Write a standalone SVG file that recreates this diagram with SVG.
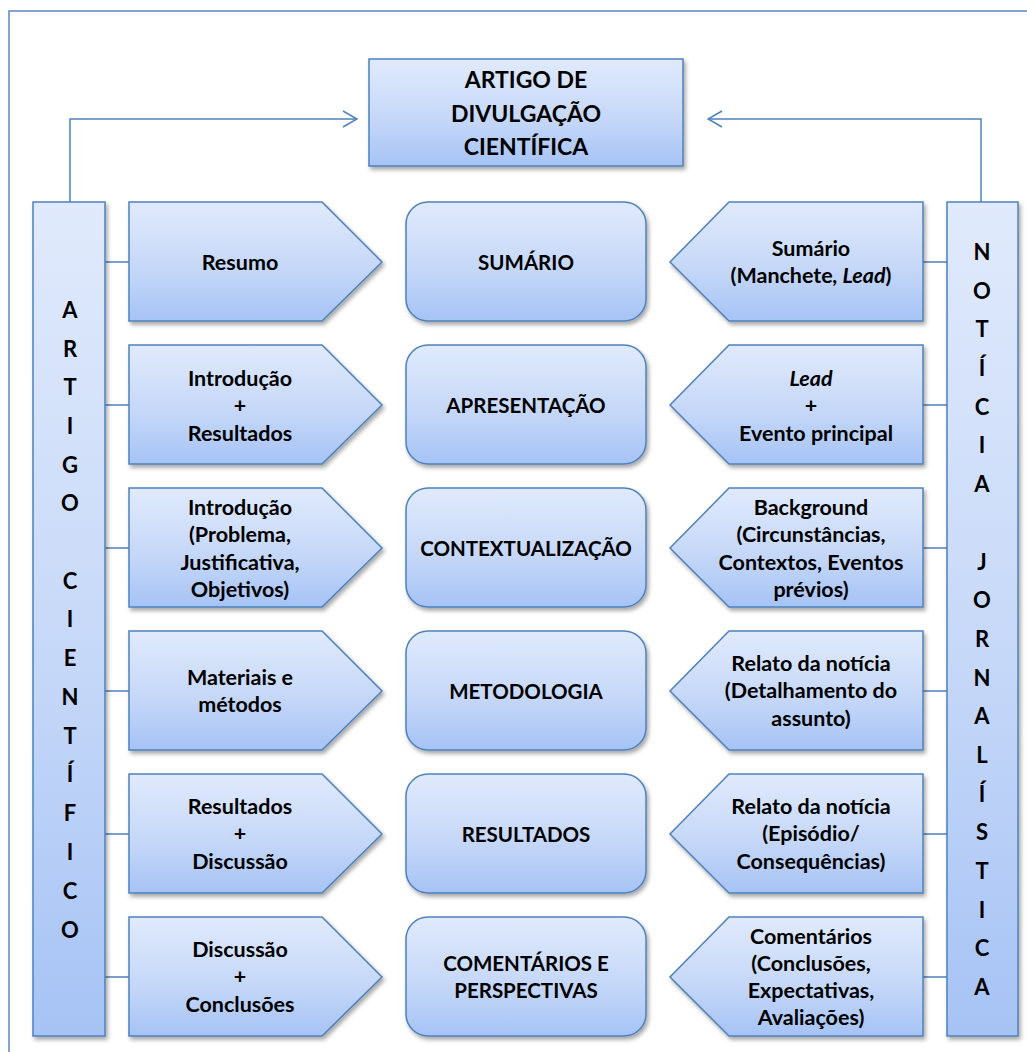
<svg xmlns="http://www.w3.org/2000/svg" width="1027" height="1052" viewBox="0 0 1027 1052">
  <defs>
    <linearGradient id="fillBlue" x1="0" y1="0" x2="0" y2="1">
      <stop offset="0" stop-color="#e0eafc"/>
      <stop offset="0.55" stop-color="#c6d8f8"/>
      <stop offset="1" stop-color="#a6c3f5"/>
    </linearGradient>
    <filter id="shadow" x="-10%" y="-10%" width="125%" height="125%">
      <feDropShadow dx="2" dy="3" stdDeviation="2" flood-color="#000" flood-opacity="0.35"/>
    </filter>
    <marker id="openArrow" markerWidth="16" markerHeight="18" refX="15" refY="9" orient="auto" markerUnits="userSpaceOnUse">
      <path d="M1,1 L15,9 L1,17" fill="none" stroke="#4f81bd" stroke-width="1.5"/>
    </marker>
  </defs>
  <style>
    .shape { fill: url(#fillBlue); stroke: #4f81bd; stroke-width: 1.5; filter: url(#shadow); }
    .link { fill: none; stroke: #4f81bd; stroke-width: 1.5; }
    .frame { fill: none; stroke: #5b87c5; stroke-width: 1.5; }
    text { font-family: Lato, Carlito, "Liberation Sans", sans-serif; font-weight: bold; fill: #000; text-anchor: middle; }
    .lbl { font-size: 21.5px; }
    .mid { font-size: 20.5px; }
    .title { font-size: 23px; }
    .letter { font-size: 22px; }
    .it { font-style: italic; }
  </style>

  <rect width="1027" height="1052" fill="#fff"/>

  <!-- outer frame -->
  <path class="frame" d="M9,1052 V11 H1027"/>

  <!-- connectors -->
  <g id="connectors">
    <path class="link" d="M70,202 V119 H357" stroke="#4a98c8" marker-end="url(#openArrow)"/>
    <path class="link" d="M981,202 V119 H708" marker-end="url(#openArrow)"/>
    <path class="link" d="M105,262 H129 M105,405 H129 M105,548 H129 M105,691 H129 M105,834 H129 M105,977 H129"/>
    <path class="link" d="M923,262 H947 M923,405 H947 M923,548 H947 M923,691 H947 M923,834 H947 M923,977 H947"/>
  </g>

  <!-- title -->
  <g id="title">
    <rect class="shape" x="369" y="59" width="314" height="107"/>
    <text class="title" x="526" y="88">ARTIGO DE</text>
    <text class="title" x="526" y="122">DIVULGAÇÃO</text>
    <text class="title" x="526" y="155">CIENTÍFICA</text>
  </g>

  <!-- left column bar -->
  <g id="artigo-cientifico">
    <rect class="shape" x="33" y="202" width="72" height="834"/>
    <text class="letter" x="70" y="318">A</text>
    <text class="letter" x="70" y="357">R</text>
    <text class="letter" x="70" y="395">T</text>
    <text class="letter" x="70" y="434">I</text>
    <text class="letter" x="70" y="473">G</text>
    <text class="letter" x="70" y="511">O</text>
    <text class="letter" x="70" y="589">C</text>
    <text class="letter" x="70" y="627">I</text>
    <text class="letter" x="70" y="666">E</text>
    <text class="letter" x="70" y="705">N</text>
    <text class="letter" x="70" y="744">T</text>
    <text class="letter" x="70" y="782">Í</text>
    <text class="letter" x="70" y="821">F</text>
    <text class="letter" x="70" y="860">I</text>
    <text class="letter" x="70" y="899">C</text>
    <text class="letter" x="70" y="938">O</text>
  </g>

  <!-- right column bar -->
  <g id="noticia-jornalistica">
    <rect class="shape" x="947" y="202" width="71" height="834"/>
    <text class="letter" x="982" y="260">N</text>
    <text class="letter" x="982" y="299">O</text>
    <text class="letter" x="982" y="337">T</text>
    <text class="letter" x="982" y="376">Í</text>
    <text class="letter" x="982" y="415">C</text>
    <text class="letter" x="982" y="453">I</text>
    <text class="letter" x="982" y="492">A</text>
    <text class="letter" x="982" y="570">J</text>
    <text class="letter" x="982" y="608">O</text>
    <text class="letter" x="982" y="647">R</text>
    <text class="letter" x="982" y="686">N</text>
    <text class="letter" x="982" y="724">A</text>
    <text class="letter" x="982" y="763">L</text>
    <text class="letter" x="982" y="802">Í</text>
    <text class="letter" x="982" y="840">S</text>
    <text class="letter" x="982" y="879">T</text>
    <text class="letter" x="982" y="918">I</text>
    <text class="letter" x="982" y="956">C</text>
    <text class="letter" x="982" y="995">A</text>
  </g>

  <!-- row 1 -->
  <g id="resumo">
    <path class="shape" d="M129,202 H322 L382,262 L322,321 H129 Z"/>
    <text class="lbl" x="240" y="270">Resumo</text>
  </g>
  <g id="sumario">
    <rect class="shape" x="406" y="202" width="240" height="119" rx="22"/>
    <text class="mid" x="526" y="270">SUMÁRIO</text>
  </g>
  <g id="sumario-noticia">
    <path class="shape" d="M923,202 H729 L670,262 L729,321 H923 Z"/>
    <text class="lbl" x="811" y="256">Sumário</text>
    <text class="lbl" x="811" y="283">(Manchete<tspan class="it">, Lead</tspan>)</text>
  </g>

  <!-- row 2 -->
  <g id="introducao-resultados">
    <path class="shape" d="M129,345 H322 L382,405 L322,464 H129 Z"/>
    <text class="lbl" x="240" y="386">Introdução</text>
    <text class="lbl" x="240" y="413">+</text>
    <text class="lbl" x="240" y="441">Resultados</text>
  </g>
  <g id="apresentacao">
    <rect class="shape" x="406" y="345" width="240" height="119" rx="22"/>
    <text class="mid" x="526" y="413">APRESENTAÇÃO</text>
  </g>
  <g id="lead-evento">
    <path class="shape" d="M923,345 H729 L670,405 L729,464 H923 Z"/>
    <text class="lbl it" x="811" y="386">Lead</text>
    <text class="lbl" x="811" y="413">+</text>
    <text class="lbl" x="816" y="441">Evento principal</text>
  </g>

  <!-- row 3 -->
  <g id="introducao-problema">
    <path class="shape" d="M129,488 H322 L382,548 L322,607 H129 Z"/>
    <text class="lbl" x="240" y="515">Introdução</text>
    <text class="lbl" x="240" y="542">(Problema,</text>
    <text class="lbl" x="240" y="570">Justificativa,</text>
    <text class="lbl" x="240" y="597">Objetivos)</text>
  </g>
  <g id="contextualizacao">
    <rect class="shape" x="406" y="488" width="240" height="119" rx="22"/>
    <text class="mid" x="526" y="556">CONTEXTUALIZAÇÃO</text>
  </g>
  <g id="background">
    <path class="shape" d="M923,488 H729 L670,548 L729,607 H923 Z"/>
    <text class="lbl" x="811" y="515">Background</text>
    <text class="lbl" x="811" y="542">(Circunstâncias,</text>
    <text class="lbl" x="811" y="570">Contextos, Eventos</text>
    <text class="lbl" x="811" y="597">prévios)</text>
  </g>

  <!-- row 4 -->
  <g id="materiais-metodos">
    <path class="shape" d="M129,631 H322 L382,691 L322,750 H129 Z"/>
    <text class="lbl" x="240" y="685">Materiais e</text>
    <text class="lbl" x="240" y="712">métodos</text>
  </g>
  <g id="metodologia">
    <rect class="shape" x="406" y="631" width="240" height="119" rx="22"/>
    <text class="mid" x="526" y="699">METODOLOGIA</text>
  </g>
  <g id="relato-detalhamento">
    <path class="shape" d="M923,631 H729 L670,691 L729,750 H923 Z"/>
    <text class="lbl" x="811" y="671">Relato da notícia</text>
    <text class="lbl" x="811" y="698">(Detalhamento do</text>
    <text class="lbl" x="811" y="726">assunto)</text>
  </g>

  <!-- row 5 -->
  <g id="resultados-discussao">
    <path class="shape" d="M129,774 H322 L382,834 L322,893 H129 Z"/>
    <text class="lbl" x="240" y="814">Resultados</text>
    <text class="lbl" x="240" y="841">+</text>
    <text class="lbl" x="240" y="869">Discussão</text>
  </g>
  <g id="resultados">
    <rect class="shape" x="406" y="774" width="240" height="119" rx="22"/>
    <text class="mid" x="526" y="842">RESULTADOS</text>
  </g>
  <g id="relato-episodio">
    <path class="shape" d="M923,774 H729 L670,834 L729,893 H923 Z"/>
    <text class="lbl" x="811" y="814">Relato da notícia</text>
    <text class="lbl" x="811" y="841">(Episódio/</text>
    <text class="lbl" x="811" y="869">Consequências)</text>
  </g>

  <!-- row 6 -->
  <g id="discussao-conclusoes">
    <path class="shape" d="M129,917 H322 L382,977 L322,1036 H129 Z"/>
    <text class="lbl" x="240" y="957">Discussão</text>
    <text class="lbl" x="240" y="984">+</text>
    <text class="lbl" x="240" y="1012">Conclusões</text>
  </g>
  <g id="comentarios-perspectivas">
    <rect class="shape" x="406" y="917" width="240" height="119" rx="22"/>
    <text class="mid" x="526" y="971">COMENTÁRIOS E</text>
    <text class="mid" x="526" y="998">PERSPECTIVAS</text>
  </g>
  <g id="comentarios">
    <path class="shape" d="M923,917 H729 L670,977 L729,1036 H923 Z"/>
    <text class="lbl" x="811" y="944">Comentários</text>
    <text class="lbl" x="811" y="971">(Conclusões,</text>
    <text class="lbl" x="811" y="998">Expectativas,</text>
    <text class="lbl" x="811" y="1025">Avaliações)</text>
  </g>
</svg>
